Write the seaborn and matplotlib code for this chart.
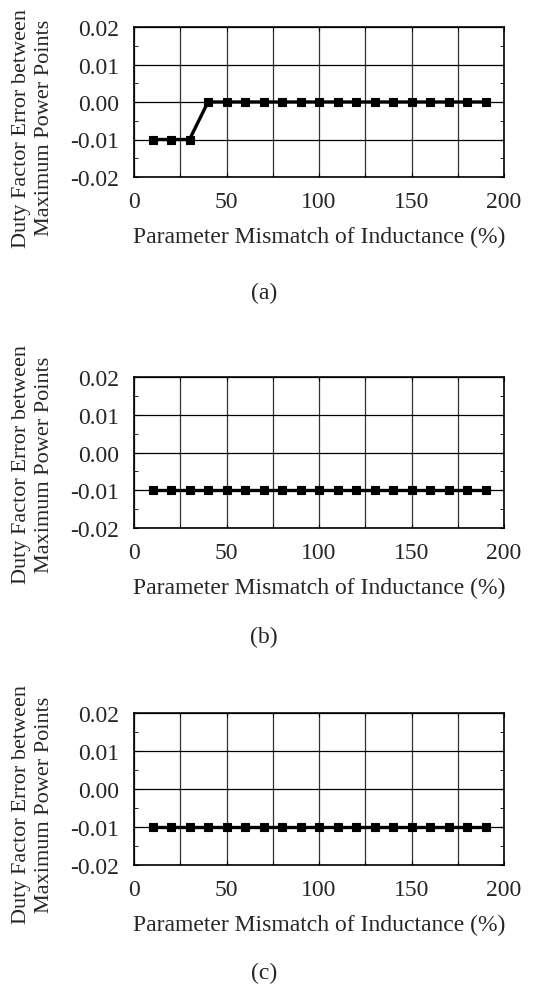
import matplotlib
matplotlib.use("Agg")
import matplotlib.pyplot as plt
from matplotlib.ticker import MultipleLocator, FixedLocator
import pandas as pd
import seaborn as sns

# Inductance mismatch (%) and duty factor error for each case
mismatch = [10, 20, 30, 40, 50, 60, 70, 80, 90, 100, 110, 120, 130, 140, 150, 160, 170, 180, 190]
error_a = [-0.01, -0.01, -0.01, 0.0, 0.0, 0.0, 0.0, 0.0, 0.0, 0.0, 0.0, 0.0, 0.0, 0.0, 0.0, 0.0, 0.0, 0.0, 0.0]
error_b = [-0.01] * 19
error_c = [-0.01] * 19
captions = ["(a)", "(b)", "(c)"]
x_ticks = [0, 50, 100, 150, 200]
y_ticks = [-0.02, -0.01, 0.00, 0.01, 0.02]
y_tick_labels = ["-0.02", "-0.01", "0.00", "0.01", "0.02"]

sns.set_style("ticks")
plt.rcParams["font.family"] = ["Liberation Serif", "DejaVu Serif"]

W, H = 535, 987
fig = plt.figure(figsize=(W / 100, H / 100), dpi=100)

# axes boxes in pixels: (left, top, right, bottom)
boxes = [(134, 28, 504, 178), (134, 378, 504, 529), (134, 714, 504, 866)]
ylabel_centre = [128, 465, 805]
caption_y = [293, 637, 973]
series = [error_a, error_b, error_c]

for (l, t, r, b), err, cap, cy, yc in zip(boxes, series, captions, caption_y, ylabel_centre):
    ax = fig.add_axes([l / W, 1 - b / H, (r - l) / W, (b - t) / H])
    df = pd.DataFrame({"mismatch": mismatch, "error": err})
    sns.lineplot(data=df, x="mismatch", y="error", ax=ax, color="black",
                 linewidth=2.4, marker="s", markersize=6.4, markeredgecolor="black",
                 markeredgewidth=0.8, zorder=5)
    ax.set_xlim(0, 200)
    ax.set_ylim(-0.02, 0.02)
    ax.xaxis.set_major_locator(FixedLocator(x_ticks))
    ax.xaxis.set_minor_locator(MultipleLocator(25))
    ax.set_yticks(y_ticks)
    ax.set_yticklabels(y_tick_labels)
    ax.yaxis.set_minor_locator(MultipleLocator(0.005))
    ax.grid(True, which="major", axis="y", color="black", linewidth=0.9)
    ax.grid(True, which="both", axis="x", color="#333333", linewidth=0.9)
    ax.tick_params(axis="both", which="both", direction="in", top=True, right=True,
                   labelsize=17, color="black", length=3)
    ax.tick_params(axis="x", which="both", pad=10)
    ax.tick_params(axis="y", which="both", pad=10.5)
    for s in ax.spines.values():
        s.set_color("black")
        s.set_linewidth(1.2)
    # x label centred 59 px below the bottom spine
    ax.set_xlabel("Parameter Mismatch of Inductance (%)", fontsize=17, va="center")
    ax.xaxis.set_label_coords(0.5, -59 / (b - t))
    ax.set_ylabel("Duty Factor Error between\nMaximum Power Points", fontsize=16,
                  linespacing=1.3, va="center")
    ax.yaxis.set_label_coords((33 - l) / (r - l), (b - yc) / (b - t))
    fig.text(264 / W, 1 - cy / H, cap, ha="center", va="center", fontsize=17)

fig.savefig("out.png", dpi=100, facecolor="white")
